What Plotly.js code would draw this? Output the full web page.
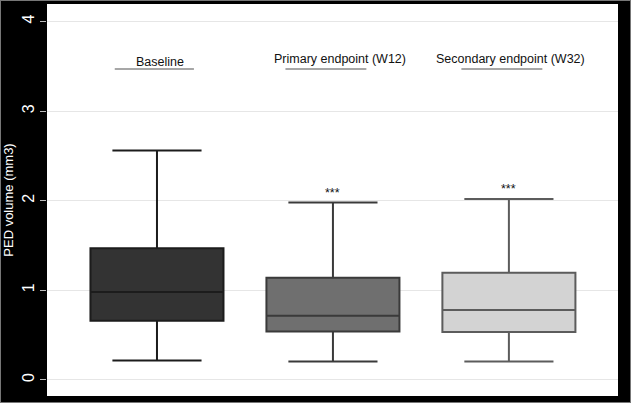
<!DOCTYPE html>
<html>
<head>
<meta charset="utf-8">
<script src="https://cdn.plot.ly/plotly-3.0.1.min.js"></script>
<style>
  html, body { margin: 0; padding: 0; background: #000; }
  #chart { width: 631px; height: 403px; box-sizing: border-box; border: 1px solid #777; }
</style>
</head>
<body>
<div id="chart"></div>
<script>
// group labels and box statistics (mm3)
const groups = ['Baseline', 'Primary endpoint (W12)', 'Secondary endpoint (W32)'];
const lowerWhisker = [0.215, 0.205, 0.205];
const q1 = [0.66, 0.54, 0.535];
const median = [0.98, 0.715, 0.78];
const q3 = [1.47, 1.14, 1.195];
const upperWhisker = [2.56, 1.98, 2.02];
const significance = ['', '***', '***'];

const fills = ['#333333', '#6f6f6f', '#d3d3d3'];
const lines = ['#1c1c1c', '#3a3a3a', '#5c5c5c'];
// labels sit a little off the box centres in the original
const labelShift = [0.015, 0.04, 0.01];

function buildTraces() {
    const traces = [];
    for (let i = 0; i < groups.length; i++) {
        traces.push({
            type: 'box',
            name: groups[i],
            x: [i],
            q1: [q1[i]],
            median: [median[i]],
            q3: [q3[i]],
            lowerfence: [lowerWhisker[i]],
            upperfence: [upperWhisker[i]],
            width: 0.756,
            whiskerwidth: 0.67,
            fillcolor: fills[i],
            line: {color: lines[i], width: 2},
            hoverinfo: 'skip'
        });
    }
    return traces;
}

function buildAnnotations() {
    const notes = [];
    groups.forEach((g, i) => {
        notes.push({
            x: i + labelShift[i], y: i === 0 ? 3.55 : 3.585, xref: 'x', yref: 'y',
            text: g, showarrow: false,
            font: {family: 'Liberation Sans, Arial, sans-serif', size: 12.5, color: '#111'}
        });
        if (significance[i]) {
            notes.push({
                x: i, y: upperWhisker[i], xref: 'x', yref: 'y',
                yanchor: 'bottom', yshift: 1,
                text: significance[i], showarrow: false,
                font: {family: 'Liberation Sans, Arial, sans-serif', size: 12.5, color: '#111'}
            });
        }
    });
    return notes;
}

// thin gray rule under each group label
function buildShapes() {
    return groups.map((g, i) => ({
        type: 'line', xref: 'x', yref: 'y',
        x0: i - 0.24 - (i > 0 ? 0.03 : 0), x1: i + 0.21 - (i > 0 ? 0.02 : 0),
        y0: 3.47, y1: 3.47,
        line: {color: '#8a8a8a', width: 1.5}
    }));
}

const layout = {
    width: 629,
    height: 401,
    margin: {l: 46, r: 12, t: 3, b: 6},
    paper_bgcolor: '#000000',
    plot_bgcolor: '#ffffff',
    showlegend: false,
    boxmode: 'overlay',
    xaxis: {
        range: [-0.625, 2.62],
        showticklabels: false,
        showgrid: false,
        zeroline: false,
        ticks: ''
    },
    yaxis: {
        range: [-0.18, 4.196],
        tickvals: [0, 1, 2, 3, 4],
        tickangle: -90,
        ticks: 'outside',
        ticklen: 6,
        tickcolor: '#bbbbbb',
        tickfont: {family: 'Liberation Sans, Arial, sans-serif', size: 16, color: '#ffffff'},
        showgrid: true,
        gridcolor: '#e6e6e6',
        gridwidth: 1,
        zeroline: false,
        title: {
            text: 'PED volume (mm3)',
            standoff: 3,
            font: {family: 'Liberation Sans, Arial, sans-serif', size: 13, color: '#ffffff'}
        }
    },
    annotations: buildAnnotations(),
    shapes: buildShapes()
};

Plotly.newPlot('chart', buildTraces(), layout, {displayModeBar: false, staticPlot: true});
</script>
</body>
</html>
